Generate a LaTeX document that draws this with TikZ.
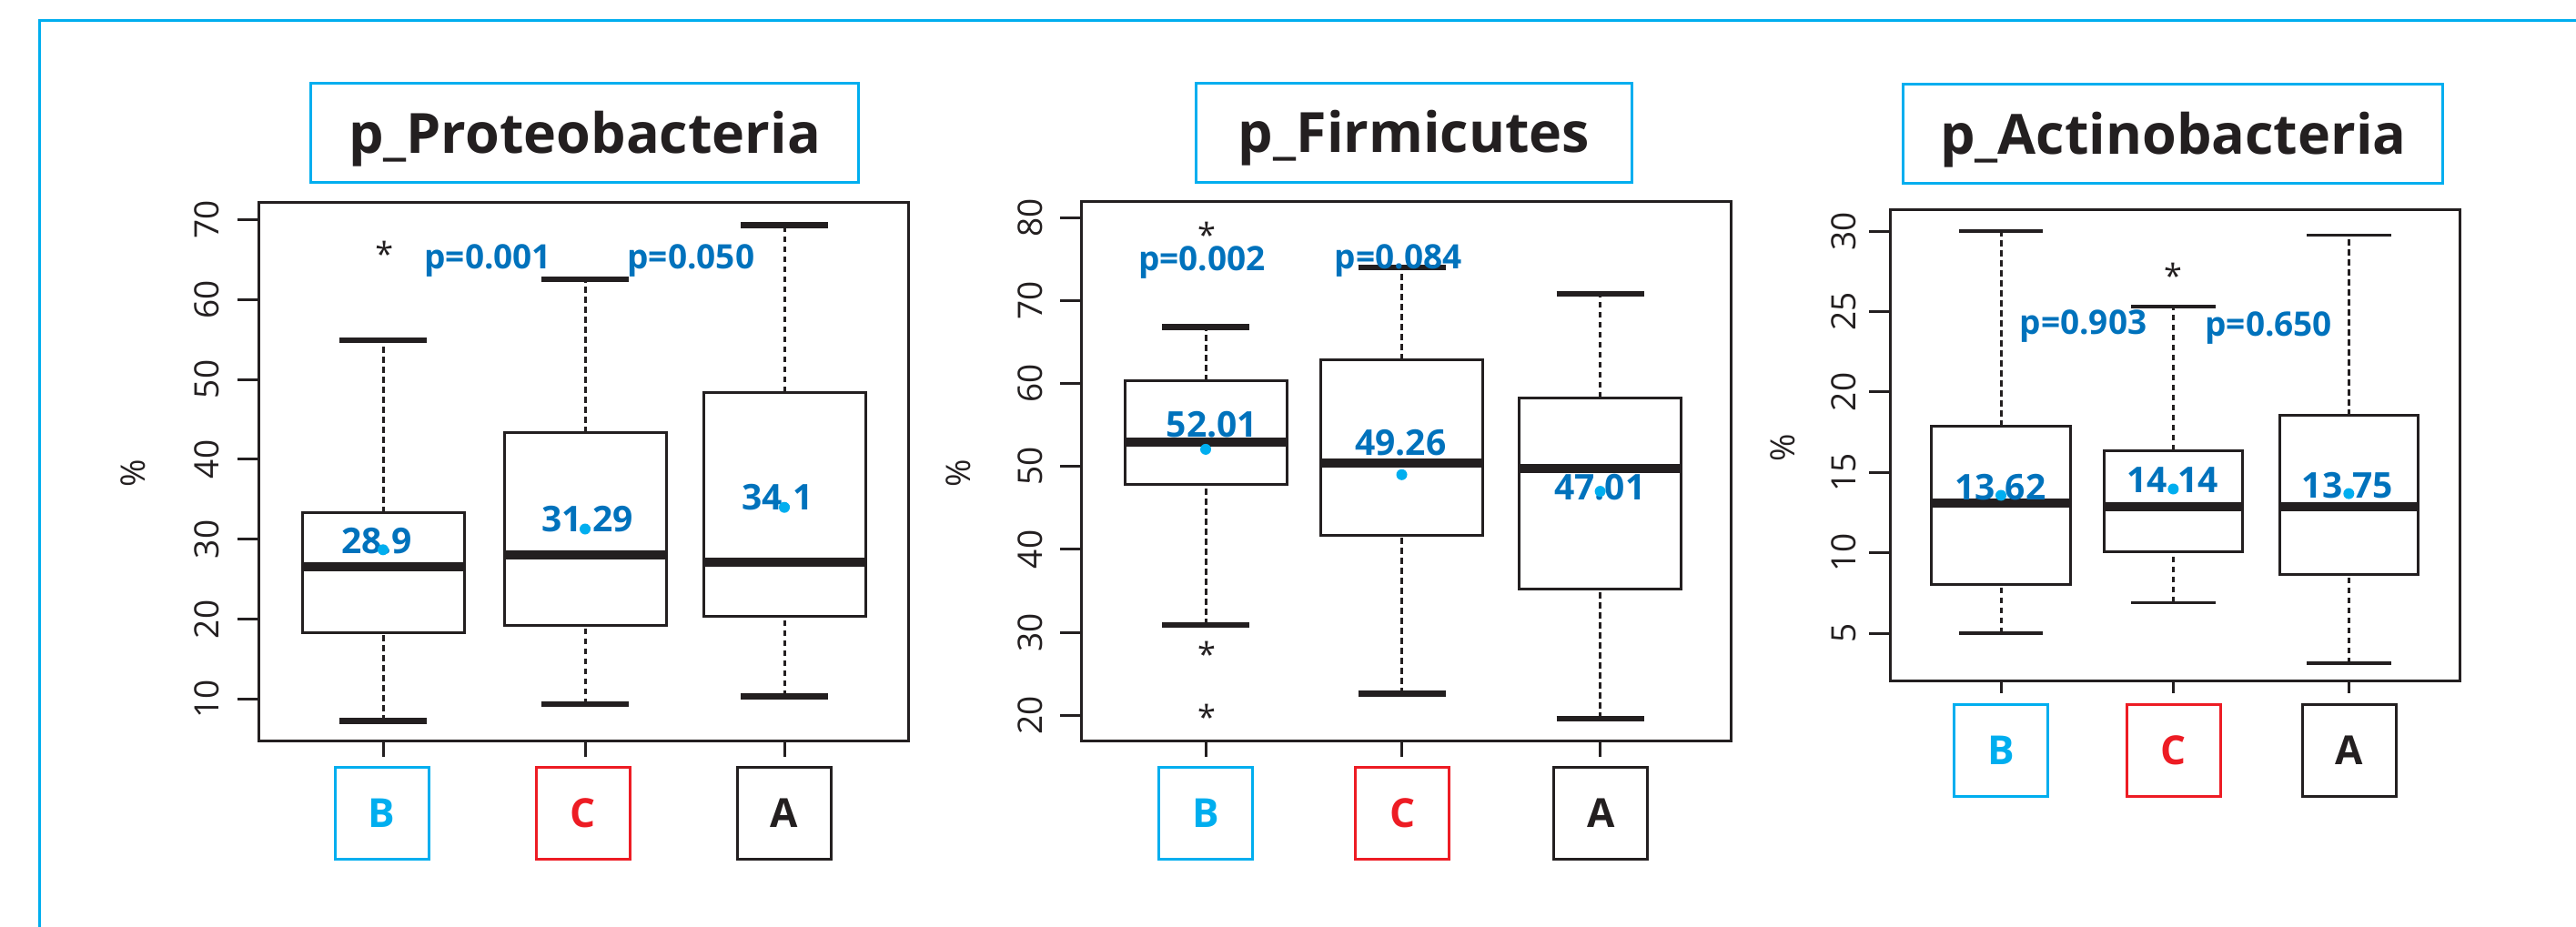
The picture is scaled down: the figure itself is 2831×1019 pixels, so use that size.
\documentclass[tikz,border=0pt]{standalone}
\usepackage{fontspec}
\setmainfont{Open Sans}

\definecolor{frameblue}{HTML}{00AEEF}
\definecolor{pblue}{HTML}{0072BC}
\definecolor{dotblue}{HTML}{00AEEF}
\definecolor{grpred}{HTML}{ED1C24}
\definecolor{ink}{HTML}{231F20}

\tikzset{
  titlebox/.style={draw=frameblue, line width=3pt, minimum width=#1, minimum height=109pt,
    inner sep=0pt, text height=44pt, text depth=0pt, text=ink,
    font=\fontsize{61}{61}\selectfont\bfseries},
  grpbox/.style={draw=#1, text=#1, line width=3pt, minimum width=103pt, minimum height=101pt,
    inner sep=0pt, text height=31pt, text depth=0pt, font=\fontsize{44}{44}\selectfont\bfseries},
  ticklbl/.style={rotate=90, inner sep=0pt, text=ink, font=\fontsize{37}{37}\selectfont},
  pval/.style={anchor=base, inner sep=0pt, text=pblue, font=\fontsize{37}{37}\selectfont\bfseries},
  meanlbl/.style={anchor=base, inner sep=0pt, text=pblue, font=\fontsize{39}{39}\selectfont\bfseries},
  outl/.style={inner sep=0pt, text=ink, yshift=-6pt, font=\fontsize{36}{36}\selectfont},
  plotframe/.style={draw=ink, line width=3pt},
  axtick/.style={draw=ink, line width=3pt},
  whisk/.style={draw=ink, line width=3pt, dash pattern=on 6.5pt off 4.5pt},
  capln/.style={draw=ink, line width=6.5pt},
  boxln/.style={draw=ink, line width=3pt},
  medln/.style={draw=ink, line width=10pt},
  meandot/.style={fill=dotblue},
}

% box half width and whisker cap half width
\def\bw{89}
\def\cw{48}
% #1 x, #2 low, #3 q1, #4 median, #5 q3, #6 high
\newcommand{\bxplot}[6]{%
  \draw[whisk] (#1,#2) -- (#1,#3);
  \draw[whisk] (#1,#5) -- (#1,#6);
  \draw[capln] (#1-\cw,#2) -- (#1+\cw,#2);
  \draw[capln] (#1-\cw,#6) -- (#1+\cw,#6);
  \draw[boxln] (#1-\bw,#3) rectangle (#1+\bw,#5);
  \draw[medln] (#1-\bw,#4) -- (#1+\bw,#4);
}

\begin{document}
\begin{tikzpicture}[x=1pt, y=1pt]
  \useasboundingbox (0,0) rectangle (2831,-1019);

  % outer frame
  \draw[frameblue, line width=2.6pt] (43.3,-1019) -- (43.3,-22.7) -- (2831,-22.7);

  % titles
  \node[titlebox=602.7pt] (TitleProteo) at (642.5,-146.2) {p\_Proteobacteria};
  \node[titlebox=479.3pt] (TitleFirmi) at (1554,-145.6) {p\_Firmicutes};
  \node[titlebox=593.1pt] (TitleActino) at (2388.4,-147.5) {p\_Actinobacteria};

  % plot frames
  \draw[plotframe] (284.4,-222.9) rectangle (998,-814.3);
  \draw[plotframe] (1188.4,-221.6) rectangle (1902.8,-814.3);
  \draw[plotframe] (2077.5,-230) rectangle (2703.4,-748);

  % y labels
  \node[ticklbl] (PctProteo) at (146.7,-520) {\%};
  \node[ticklbl] (PctFirmi) at (1053.3,-520) {\%};
  \node[ticklbl] (PctActino) at (1959.4,-492) {\%};

  % x ticks
  \foreach \x in {421,643,862}
    \draw[axtick] (\x,-814.3) -- (\x,-831.8);
  \foreach \x in {1325,1540.5,1758.6}
    \draw[axtick] (\x,-814.3) -- (\x,-831.8);
  \foreach \x in {2199,2388.4,2581.3}
    \draw[axtick] (\x,-748) -- (\x,-762);

  % p_Proteobacteria
  \begin{scope}[shift={(0,-856.75)}, y=8.795pt]
    \foreach \v in {10,20,...,70}{
      \draw[axtick] (284.4,\v) -- (261.4,\v);
      \node[ticklbl] (TickP\v) at (227.7,\v) {\v};
    }
    \bxplot{421}{7.3}{18.3}{26.6}{33.3}{54.9}
    \bxplot{643}{9.4}{19.3}{28.0}{43.3}{62.5}
    \bxplot{862}{10.4}{20.4}{27.1}{48.4}{69.3}
  \end{scope}

  % p_Firmicutes
  \begin{scope}[shift={(0,-968.7)}, y=9.12pt]
    \foreach \v in {20,30,...,80}{
      \draw[axtick] (1188.4,\v) -- (1165.4,\v);
      \node[ticklbl] (TickF\v) at (1132.1,\v) {\v};
    }
    \bxplot{1325}{30.9}{47.8}{52.9}{60.3}{66.8}
    \bxplot{1540.5}{22.6}{41.7}{50.4}{62.8}{74.0}
    \bxplot{1758.6}{19.6}{35.2}{49.8}{58.3}{70.8}
  \end{scope}

  % p_Actinobacteria
  \def\bw{76.3}
  \def\cw{46.3}
  \begin{scope}[shift={(0,-784.4)}, y=17.676pt, capln/.style={draw=ink, line width=3.5pt}]
    \foreach \v in {5,10,...,30}{
      \draw[axtick] (2077.5,\v) -- (2054.4,\v);
      \node[ticklbl] (TickA\v) at (2026.5,\v) {\v};
    }
    \bxplot{2199}{5.0}{8.05}{13.09}{17.87}{30.0}
    \bxplot{2388.4}{6.91}{10.07}{12.87}{16.36}{25.3}
    \bxplot{2581.3}{3.13}{8.64}{12.87}{18.53}{29.74}
  \end{scope}

  % outliers
  \node[outl] (OutP1) at (422.2,-272.9) {*};
  \node[outl] (OutF1) at (1326,-252) {*};
  \node[outl] (OutF2) at (1326,-712.9) {*};
  \node[outl] (OutF3) at (1326,-781.8) {*};
  \node[outl] (OutA1) at (2388,-297) {*};

  % p values
  \node[pval] (PvalP1) at (536.3,-295.7) {p=0.001};
  \node[pval] (PvalP2) at (759.3,-295.7) {p=0.050};
  \node[pval] (PvalF1) at (1320.8,-297.3) {p=0.002};
  \node[pval] (PvalF2) at (1536.7,-295.7) {p=0.084};
  \node[pval] (PvalA1) at (2289.5,-367.7) {p=0.903};
  \node[pval] (PvalA2) at (2493.2,-369) {p=0.650};

  % means
  \node[meanlbl] (MeanPB) at (414,-608.3) {28.9};
  \node[meanlbl] (MeanPC) at (645.7,-584.9) {31.29};
  \node[meanlbl] (MeanPA) at (854.3,-560.8) {34.1};
  \node[meanlbl] (MeanFB) at (1332,-480.9) {52.01};
  \node[meanlbl] (MeanFC) at (1539.2,-500.4) {49.26};
  \node[meanlbl] (MeanFA) at (1758.3,-549.1) {47.01};
  \node[meanlbl] (MeanAB) at (2198.4,-549.1) {13.62};
  \node[meanlbl] (MeanAC) at (2387.5,-541.3) {14.14};
  \node[meanlbl] (MeanAA) at (2579.9,-547.8) {13.75};

  \foreach \x/\y in {421/604.3, 643/581.5, 862/557.7, 1325/493.9, 1540.5/521.8,
                     1758.6/540.1, 2199/544.5, 2388.4/537.5, 2581.3/542.6}
    \fill[meandot] (\x,-\y) circle[radius=6pt];

  % groups
  \node[grpbox=frameblue] (GrpPB) at (419.7,-893.5) {B};
  \node[grpbox=grpred] (GrpPC) at (641,-893.5) {C};
  \node[grpbox=ink] (GrpPA) at (861.5,-893.5) {A};
  \node[grpbox=frameblue] (GrpFB) at (1325.4,-893.5) {B};
  \node[grpbox=grpred] (GrpFC) at (1541,-893.5) {C};
  \node[grpbox=ink] (GrpFA) at (1759.2,-893.5) {A};
  \node[grpbox=frameblue] (GrpAB) at (2199,-825.3) {B};
  \node[grpbox=grpred] (GrpAC) at (2388.7,-825.3) {C};
  \node[grpbox=ink] (GrpAA) at (2582,-825.3) {A};
\end{tikzpicture}
\end{document}
